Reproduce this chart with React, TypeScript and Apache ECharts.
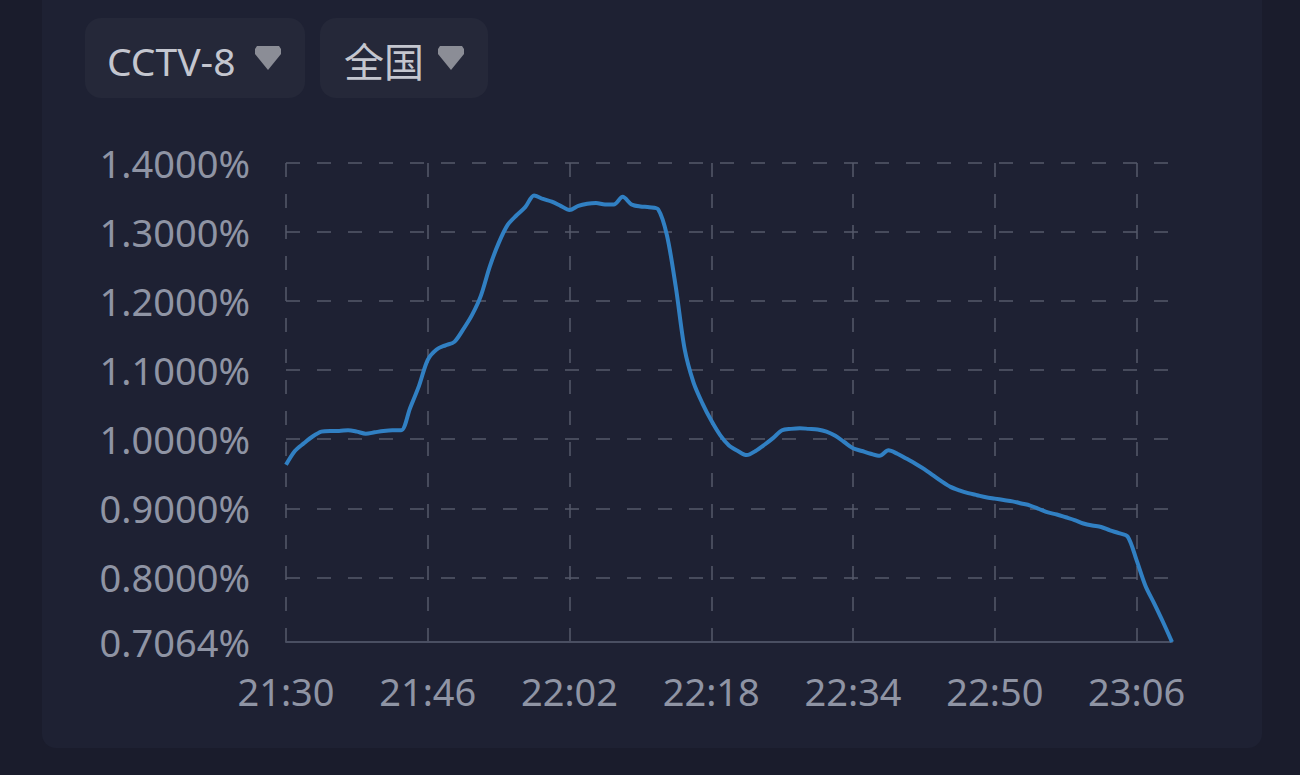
import React, { useEffect, useRef } from "react";
import * as echarts from "echarts";

// minute-by-minute timeline 21:30 .. 23:10
const startMinutes = 21 * 60 + 30;
const ratings: number[] = [
  0.963, 0.983, 0.994, 1.004, 1.011, 1.012, 1.012, 1.013, 1.011, 1.008,
  1.010, 1.012, 1.013, 1.013, 1.045, 1.077, 1.115, 1.130, 1.136, 1.141,
  1.159, 1.180, 1.208, 1.250, 1.284, 1.310, 1.324, 1.336, 1.353, 1.348,
  1.344, 1.338, 1.332, 1.338, 1.341, 1.342, 1.340, 1.340, 1.351, 1.340,
  1.337, 1.336, 1.333, 1.295, 1.220, 1.130, 1.082, 1.052, 1.027, 1.006,
  0.991, 0.983, 0.977, 0.983, 0.992, 1.002, 1.013, 1.015, 1.016, 1.015,
  1.014, 1.011, 1.005, 0.996, 0.987, 0.983, 0.979, 0.976, 0.984, 0.979,
  0.972, 0.965, 0.957, 0.948, 0.939, 0.931, 0.926, 0.922, 0.919, 0.916,
  0.914, 0.912, 0.910, 0.907, 0.904, 0.899, 0.894, 0.891, 0.887, 0.883,
  0.878, 0.875, 0.873, 0.868, 0.864, 0.859, 0.825, 0.788, 0.762, 0.735,
  0.7064,
];
const times: string[] = ratings.map((_, i) => {
  const t = startMinutes + i;
  const h = Math.floor(t / 60);
  const m = t % 60;
  return `${h}:${m < 10 ? "0" + m : m}`;
});
const yTicks: number[] = [0.7064, 0.8, 0.9, 1.0, 1.1, 1.2, 1.3, 1.4];
const channelLabel = "CCTV-8";
const regionLabel = "全国";

const arrowPts = (x: number, y: number) =>
  [
    [2, 0], [24, 0], [26, 3], [26, 8], [13, 24], [0, 8], [0, 3],
  ].map(([a, b]) => [x + a, y + b]);

export default function App() {
  const ref = useRef<HTMLDivElement>(null);
  useEffect(() => {
    if (!ref.current) return;
    const chart = echarts.init(ref.current, undefined, { renderer: "svg" });
    const labelColor = "#8f94a4";
    const gridColor = "#555a6b";
    chart.setOption({
      animation: false,
      backgroundColor: "#1a1c2c",
      graphic: [
        {
          type: "rect",
          z: -10,
          silent: true,
          shape: { x: 42, y: -20, width: 1220, height: 768, r: 14 },
          style: { fill: "#1e2133" },
        },
        {
          type: "rect",
          shape: { x: 85, y: 18, width: 220, height: 80, r: 16 },
          style: { fill: "#252839" },
        },
        {
          type: "text",
          x: 107,
          y: 60,
          style: {
            text: channelLabel,
            fill: "#c4c6cf",
            font: '39px "Noto Sans", sans-serif',
            verticalAlign: "middle",
          },
        },
        {
          type: "polygon",
          shape: { points: arrowPts(255, 46) },
          style: { fill: "#8b8d96" },
        },
        {
          type: "rect",
          shape: { x: 320, y: 18, width: 168, height: 80, r: 16 },
          style: { fill: "#252839" },
        },
        {
          type: "text",
          x: 344,
          y: 60,
          style: {
            text: regionLabel,
            fill: "#c4c6cf",
            font: '40px "Noto Sans CJK SC", sans-serif',
            verticalAlign: "middle",
          },
        },
        {
          type: "polygon",
          shape: { points: arrowPts(438, 46) },
          style: { fill: "#8b8d96" },
        },
      ],
      grid: { left: 286, right: 128, top: 163, bottom: 133, containLabel: false },
      xAxis: {
        type: "category",
        boundaryGap: false,
        data: times,
        axisLine: { show: true, lineStyle: { color: "#4a4f62", width: 2 } },
        axisTick: { show: false },
        axisLabel: {
          interval: (i: number) => i % 16 === 0,
          color: labelColor,
          fontSize: 38,
          fontFamily: "Noto Sans",
          margin: 30,
        },
        splitLine: {
          show: true,
          interval: (i: number) => i % 16 === 0,
          lineStyle: { color: gridColor, width: 1.5, type: [14, 17] },
        },
      },
      yAxis: {
        type: "value",
        min: 0.7064,
        max: 1.4,
        splitNumber: 7,
        axisLine: { show: false },
        axisTick: { show: false, customValues: yTicks },
        axisLabel: {
          customValues: yTicks,
          color: labelColor,
          fontSize: 38,
          fontFamily: "Noto Sans",
          margin: 36,
          formatter: (v: number) => v.toFixed(4) + "%",
        },
        splitLine: {
          show: true,
          lineStyle: { color: gridColor, width: 1.5, type: [14, 17] },
        },
      },
      series: [
        {
          type: "line",
          data: ratings,
          smooth: 0.3,
          showSymbol: false,
          lineStyle: { color: "#3180c3", width: 4 },
        },
      ],
    });
    return () => chart.dispose();
  }, []);
  return (
    <div
      ref={ref}
      style={{ position: "fixed", left: 0, top: 0, width: 1300, height: 775 }}
    />
  );
}
